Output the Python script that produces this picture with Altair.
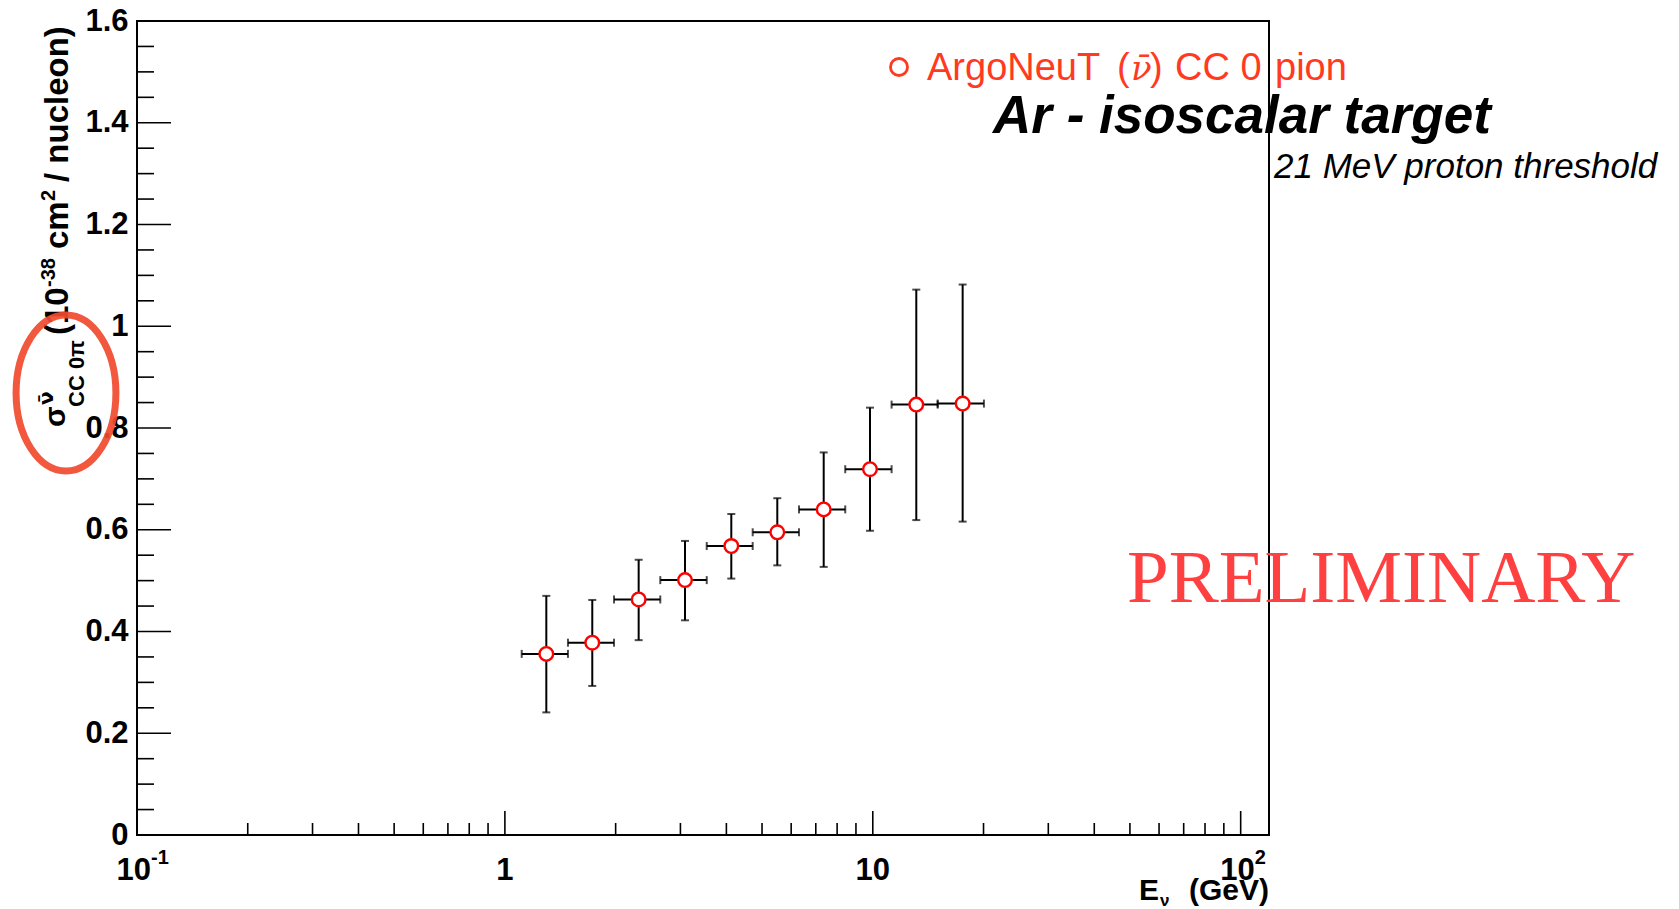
import altair as alt
import pandas as pd

# ---------------- data ----------------
E_center = [1.296, 1.728, 2.310, 3.087, 4.125, 5.501, 7.355, 9.826, 13.13, 17.55]
E_low    = [1.111, 1.484, 1.980, 2.645, 3.537, 4.716, 6.301, 8.417, 11.25, 15.01]
E_high   = [1.484, 1.980, 2.645, 3.537, 4.716, 6.301, 8.417, 11.25, 15.01, 20.05]
xsec     = [0.356, 0.378, 0.463, 0.501, 0.568, 0.595, 0.640, 0.719, 0.846, 0.848]
xsec_low = [0.241, 0.293, 0.383, 0.422, 0.504, 0.530, 0.527, 0.598, 0.619, 0.616]
xsec_high= [0.470, 0.462, 0.541, 0.578, 0.631, 0.662, 0.752, 0.840, 1.072, 1.082]

# axis ticks
y_major = [0, 0.2, 0.4, 0.6, 0.8, 1.0, 1.2, 1.4, 1.6]
y_minor = [0.05, 0.1, 0.15, 0.25, 0.3, 0.35, 0.45, 0.5, 0.55, 0.65, 0.7, 0.75,
           0.85, 0.9, 0.95, 1.05, 1.1, 1.15, 1.25, 1.3, 1.35, 1.45, 1.5, 1.55]
x_major = [0.1, 1, 10, 100]
x_minor = [0.2, 0.3, 0.4, 0.5, 0.6, 0.7, 0.8, 0.9,
           2, 3, 4, 5, 6, 7, 8, 9,
           20, 30, 40, 50, 60, 70, 80, 90]
x_label_plain = ["1", "10"]
x_label_plain_pos = [1, 10]
x_label_pow_base = ["10", "10"]
x_label_pow_exp = ["-1", "2"]
x_label_pow_pos = [0.1, 100]

legend_parts = ["ArgoNeuT", "(", "\u03bd\u0304", ")", "CC 0", "pion"]
title_main = "Ar - isoscalar target"
title_sub = "21 MeV proton threshold"
stamp = "PRELIMINARY"
ytitle_parts = ["(10", "-38", "cm", "2", "/ nucleon)"]
ytitle_sigma = "\u03c3"
ytitle_sup = "\u03bd\u0304"
ytitle_sub = "CC 0\u03c0"
xtitle_parts = ["E", "\u03bd", "(GeV)"]

W, H = 1132, 814
FONT = "Liberation Sans"

df = pd.DataFrame({"E": E_center, "Elo": E_low, "Ehi": E_high,
                   "s": xsec, "slo": xsec_low, "shi": xsec_high})

xscale = alt.Scale(type="log", domain=[0.1, 119.4], nice=False)
yscale = alt.Scale(domain=[0, 1.6], nice=False, zero=False)

xaxis = alt.Axis(values=x_major, ticks=False, tickSize=0, domain=False, grid=False,
                 title=None, labels=False)
yaxis = alt.Axis(values=y_major, ticks=False, tickSize=0, domain=False, grid=False,
                 title=None, labelFont=FONT, labelFontSize=31, labelFontWeight="bold",
                 labelColor="black", labelPadding=9, labelFlush=False, labelOverlap=False,
                 labelExpr="datum.value == 0 ? '0' : datum.value == 1 ? '1' : format(datum.value, '.1f')")

base = alt.Chart(df)

# error bars
vbar = base.mark_rule(color="black", strokeWidth=2).encode(
    x=alt.X("E:Q", scale=xscale, axis=xaxis),
    y=alt.Y("slo:Q", scale=yscale, axis=yaxis), y2="shi:Q")
hbar = base.mark_rule(color="black", strokeWidth=2).encode(
    x=alt.X("Elo:Q", scale=xscale, axis=xaxis), x2="Ehi:Q",
    y=alt.Y("s:Q", scale=yscale, axis=yaxis))
cap_top = base.mark_tick(color="black", orient="horizontal", size=8, thickness=2).encode(
    x=alt.X("E:Q", scale=xscale, axis=xaxis), y=alt.Y("shi:Q", scale=yscale, axis=yaxis))
cap_bot = base.mark_tick(color="black", orient="horizontal", size=8, thickness=2).encode(
    x=alt.X("E:Q", scale=xscale, axis=xaxis), y=alt.Y("slo:Q", scale=yscale, axis=yaxis))
cap_l = base.mark_tick(color="black", orient="vertical", size=8, thickness=2).encode(
    x=alt.X("Elo:Q", scale=xscale, axis=xaxis), y=alt.Y("s:Q", scale=yscale, axis=yaxis))
cap_r = base.mark_tick(color="black", orient="vertical", size=8, thickness=2).encode(
    x=alt.X("Ehi:Q", scale=xscale, axis=xaxis), y=alt.Y("s:Q", scale=yscale, axis=yaxis))
points = base.mark_point(shape="circle", filled=True, fill="white", stroke="#ff0000",
                         strokeWidth=2.4, size=185, opacity=1).encode(
    x=alt.X("E:Q", scale=xscale, axis=xaxis), y=alt.Y("s:Q", scale=yscale, axis=yaxis))

# inward axis ticks
def yticks(vals, length):
    return alt.Chart(pd.DataFrame({"v": vals})).mark_rule(color="black", strokeWidth=1.6).encode(
        y=alt.Y("v:Q", scale=yscale, axis=yaxis), x=alt.value(0), x2=alt.value(length))

def xticks(vals, length):
    return alt.Chart(pd.DataFrame({"v": vals})).mark_rule(color="black", strokeWidth=1.6).encode(
        x=alt.X("v:Q", scale=xscale, axis=xaxis), y=alt.value(H), y2=alt.value(H - length))

# x tick labels placed through the x scale
def xlabels(texts, pos, y, size, align="center", dx=0):
    return alt.Chart(pd.DataFrame({"t": texts, "v": pos})).mark_text(
        align=align, baseline="alphabetic", fontSize=size, fontWeight="bold", font=FONT,
        color="black", dx=dx).encode(
        x=alt.X("v:Q", scale=xscale, axis=xaxis), y=alt.value(y), text="t:N")

def label(text, x, y, size, color="black", align="left", weight="normal", style="normal",
          font=FONT, angle=0, baseline="alphabetic"):
    return alt.Chart(pd.DataFrame({"t": [text]})).mark_text(
        align=align, baseline=baseline, fontSize=size, fontWeight=weight, fontStyle=style,
        font=font, color=color, angle=angle).encode(
        text="t:N", x=alt.value(x), y=alt.value(y))

LEG = "#ff3a1f"
legend_marker = alt.Chart(pd.DataFrame({"t": [legend_parts[0]]})).mark_point(
    shape="circle", filled=False, stroke=LEG, strokeWidth=2.8, size=290, opacity=1).encode(
    x=alt.value(762), y=alt.value(46))

ellipse = alt.Chart(pd.DataFrame({"t": [ytitle_sigma]})).mark_point(
    shape="M0,-1 A0.64,1 0 1,1 0,1 A0.64,1 0 1,1 0,-1 Z", filled=False,
    stroke="#f04a2e", strokeWidth=7, size=24336, opacity=0.92).encode(
    x=alt.value(-71), y=alt.value(372))

layers = [
    yticks(y_major, 34), yticks(y_minor, 17),
    xticks(x_major, 24), xticks(x_minor, 12),
    xlabels(x_label_plain, x_label_plain_pos, 859, 31),
    xlabels(x_label_pow_base, x_label_pow_pos, 859, 31, align="right", dx=14),
    xlabels(x_label_pow_exp, x_label_pow_pos, 843, 20, align="left", dx=14),
    vbar, hbar, cap_top, cap_bot, cap_l, cap_r, points,
    legend_marker,
    label(legend_parts[0], 790, 59, 38, LEG),
    label(legend_parts[1], 980, 59, 38, LEG),
    label(legend_parts[2], 994, 59, 34, LEG, style="italic", font="DejaVu Serif"),
    label(legend_parts[3], 1013, 59, 38, LEG),
    label(legend_parts[4], 1038, 59, 38, LEG),
    label(legend_parts[5], 1138, 59, 38, LEG),
    label(title_main, 856, 112, 53, weight="bold", style="italic"),
    label(title_sub, 1137, 157, 35, style="italic"),
    label(stamp, 990, 581, 75, color="#ff4040", font="Liberation Serif"),
    # y title (rotated, reading bottom to top)
    label(ytitle_parts[0], -69, 314, 33, weight="bold", angle=270),
    label(ytitle_parts[1], -82, 266, 20, weight="bold", angle=270),
    label(ytitle_parts[2], -69, 228, 33, weight="bold", angle=270),
    label(ytitle_parts[3], -82, 180, 20, weight="bold", angle=270),
    label(ytitle_parts[4], -69, 161, 33, weight="bold", angle=270),
    label(ytitle_sigma, -72, 406, 30, weight="bold", angle=270),
    label(ytitle_sup, -84, 384, 20, weight="bold", angle=270, font="DejaVu Sans"),
    label(ytitle_sub, -53, 386, 22, weight="bold", angle=270),
    ellipse,
    # x title
    label(xtitle_parts[0], 1002, 879, 30, weight="bold"),
    label(xtitle_parts[1], 1023, 885, 17, weight="bold"),
    label(xtitle_parts[2], 1132, 879, 30, weight="bold", align="right"),
]

chart = alt.layer(*layers).properties(
    width=W, height=H,
    autosize=alt.AutoSizeParams(type="none"),
    padding={"left": 137, "top": 21, "right": 410, "bottom": 74},
    background="white",
).configure_view(stroke="black", strokeWidth=2)

chart.save("out.html", embed_options={"renderer": "svg", "actions": False})
